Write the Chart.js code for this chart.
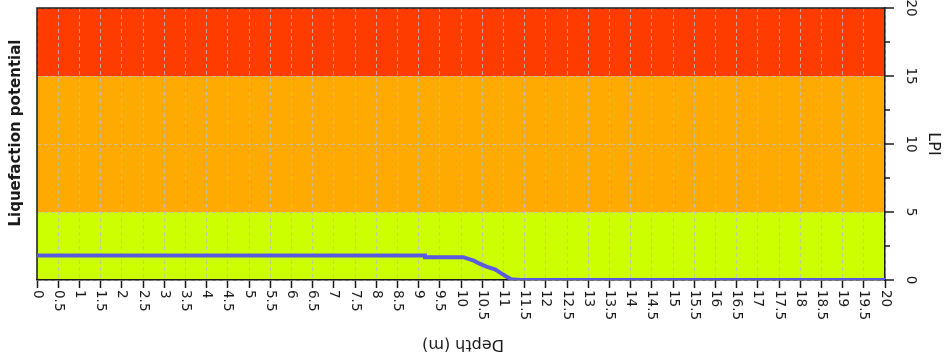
<!DOCTYPE html>
<html>
<head>
<meta charset="utf-8">
<script src="https://cdn.jsdelivr.net/npm/chart.js@4/dist/chart.umd.min.js"></script>
<style>
  html, body { margin: 0; padding: 0; background: #fff; }
  canvas { display: block; }
</style>
</head>
<body>
<canvas id="lpiChart" width="944" height="358"></canvas>
<script>
// LPI profile
const depth = [0, 9.15, 9.15, 10.05, 10.3, 10.45, 10.6, 10.8, 10.95, 11.08, 11.18, 11.4, 20];
const lpi = [1.8, 1.8, 1.68, 1.68, 1.42, 1.18, 0.98, 0.79, 0.49, 0.24, 0.06, 0, 0];

// coloured risk bands (LPI ranges)
const bandLimits = [[0, 5], [5, 15], [15, 20]];
const bandColors = ['#ccff00', '#ffaa00', '#ff3c00'];

const lpiTicks = [0, 5, 10, 15, 20];
const lpiMinorTicks = [2.5, 7.5, 12.5, 17.5];

const xTitle = 'Depth (m)';
const yTitle = 'LPI';
const chartTitle = 'Liquefaction potential';

const gridColor = 'rgba(190, 190, 190, 0.8)';
const axisColor = '#1a1a1a';
const font = '"DejaVu Sans", sans-serif';

const lpiPlugin = {
  id: 'lpiDecor',
  beforeDraw(chart) {
    const { ctx, chartArea: a, scales: { y } } = chart;
    ctx.save();
    bandLimits.forEach((b, i) => {
      const top = y.getPixelForValue(b[1]);
      const bot = y.getPixelForValue(b[0]);
      ctx.fillStyle = bandColors[i];
      ctx.fillRect(a.left, top, a.right - a.left, bot - top);
    });
    ctx.restore();
  },
  beforeDatasetsDraw(chart) {
    const { ctx, chartArea: a } = chart;
    ctx.save();
    ctx.strokeStyle = axisColor;
    ctx.lineWidth = 1.5;
    ctx.beginPath();
    ctx.moveTo(a.left, a.bottom);
    ctx.lineTo(a.left, a.top);
    ctx.lineTo(a.right, a.top);
    ctx.stroke();
    ctx.restore();
  },
  afterDraw(chart) {
    const { ctx, chartArea: a, scales: { x, y } } = chart;
    ctx.save();
    ctx.fillStyle = axisColor;
    ctx.strokeStyle = axisColor;

    // depth tick labels, turned clockwise
    ctx.font = '13.5px ' + font;
    ctx.textAlign = 'left';
    ctx.textBaseline = 'middle';
    x.ticks.forEach(t => {
      const px = x.getPixelForValue(t.value);
      ctx.save();
      ctx.translate(px, a.bottom + 10);
      ctx.rotate(Math.PI / 2);
      ctx.fillText(String(t.value), 0, 0);
      ctx.restore();
    });

    // right axis ticks and labels
    ctx.lineWidth = 1.5;
    lpiTicks.forEach(v => {
      const py = y.getPixelForValue(v);
      ctx.beginPath();
      ctx.moveTo(a.right, py);
      ctx.lineTo(a.right + 9, py);
      ctx.stroke();
      ctx.save();
      ctx.translate(a.right + 25, py);
      ctx.rotate(Math.PI / 2);
      ctx.textAlign = 'center';
      ctx.fillText(String(v), 0, 0);
      ctx.restore();
    });
    lpiMinorTicks.forEach(v => {
      const py = y.getPixelForValue(v);
      ctx.beginPath();
      ctx.moveTo(a.right, py);
      ctx.lineTo(a.right + 5, py);
      ctx.stroke();
    });

    // axis titles
    ctx.textAlign = 'center';
    ctx.font = '16px ' + font;
    ctx.save();
    ctx.translate(933, (a.top + a.bottom) / 2);
    ctx.rotate(Math.PI / 2);
    ctx.fillText(yTitle, 0, 0);
    ctx.restore();

    ctx.save();
    ctx.translate(463, 344);
    ctx.rotate(Math.PI);
    ctx.fillText(xTitle, 0, 0);
    ctx.restore();

    ctx.save();
    ctx.font = 'bold 15px ' + font;
    ctx.translate(16, 133);
    ctx.rotate(-Math.PI / 2);
    ctx.fillText(chartTitle, 0, 0);
    ctx.restore();

    ctx.restore();
  }
};

const ctx = document.getElementById('lpiChart').getContext('2d');
new Chart(ctx, {
  type: 'line',
  data: {
    datasets: [{
      data: depth.map((d, i) => ({ x: d, y: lpi[i] })),
      borderColor: '#5a5ae0',
      borderWidth: 4,
      pointRadius: 0,
      fill: false,
      tension: 0
    }]
  },
  options: {
    responsive: false,
    animation: false,
    layout: { padding: { left: 37, right: 59, top: 8, bottom: 70 } },
    plugins: { legend: { display: false }, tooltip: { enabled: false } },
    scales: {
      x: {
        type: 'linear',
        min: 0,
        max: 20,
        ticks: { display: false, stepSize: 0.5, maxTicksLimit: 100 },
        grid: { color: gridColor, tickColor: axisColor, tickLength: 8, tickWidth: 1.5 },
        border: { color: axisColor, width: 1.5, dash: [4, 3] }
      },
      y: {
        position: 'right',
        min: 0,
        max: 20,
        ticks: { display: false, stepSize: 5 },
        grid: { color: gridColor, drawTicks: false },
        border: { color: axisColor, width: 1.5, dash: [4, 3] }
      }
    }
  },
  plugins: [lpiPlugin]
});
</script>
</body>
</html>
